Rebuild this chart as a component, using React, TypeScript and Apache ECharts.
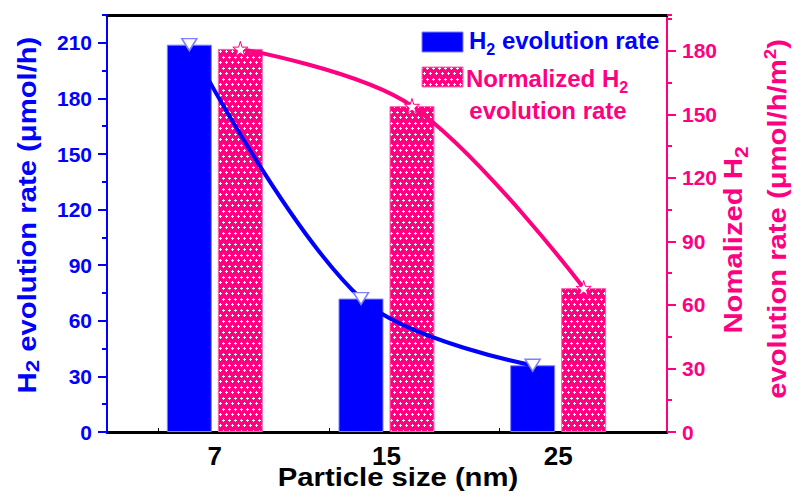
import React, { useEffect, useRef } from 'react';
import * as echarts from 'echarts';

// ---- data ----
const categories = ['7', '15', '25'];
const h2Rate = [209, 72, 36];
const normalizedRate = [181, 154, 68];
const leftAxisMax = 225;
const rightAxisMax = 197;
const majorStep = 30;
const minorStep = 15;
const xTickValues = [0.6, 1.6, 2.6, 3.6, 4.6, 5.6];

// ---- layout / style ----
const W = 795;
const H = 498;
const FRAME = { left: 107, right: 128, top: 15, bottom: 66 };
const BARGRID = { left: 129, right: 151, top: 15, bottom: 66 };
const BAR_W = 45;
const BAR_GAP = 6;
const BLUE = '#0000ff';
const PINK = '#ff0080';
const FONT = '"Liberation Sans", Arial, sans-serif';

function makePattern() {
  const c = document.createElement('canvas');
  c.width = 6;
  c.height = 11;
  const g = c.getContext('2d')!;
  g.fillStyle = PINK;
  g.fillRect(0, 0, 6, 11);
  g.fillStyle = '#ffffff';
  const plus = (x: number, y: number) => {
    g.fillRect(x, y - 1, 1, 3);
    g.fillRect(x - 1, y, 3, 1);
  };
  plus(1, 2);
  plus(4, 7);
  return { image: c, repeat: 'repeat', imageWidth: 6, imageHeight: 11 } as any;
}

const STAR = 'path://M50,0 L61,35 L98,35 L68,57 L79,91 L50,70 L21,91 L32,57 L2,35 L39,35 Z';

// rich styles: main text raised a little so that {sub} sits lower; {sup} raised above
const richFor = (color: string, mainSize: number, subSize: number, mainLift: number, supLift: number) => ({
  m: { fontSize: mainSize, fontWeight: 'bold', fontFamily: FONT, fill: color, color, verticalAlign: 'bottom', padding: [0, 0, mainLift, 0] },
  sub: { fontSize: subSize, fontWeight: 'bold', fontFamily: FONT, fill: color, color, verticalAlign: 'bottom', padding: [0, 0, 0, 0] },
  sup: { fontSize: subSize, fontWeight: 'bold', fontFamily: FONT, fill: color, color, verticalAlign: 'bottom', padding: [0, 0, supLift, 0] },
});

export default function App() {
  const ref = useRef<HTMLDivElement>(null);
  useEffect(() => {
    document.body.style.margin = '0';
    const chart = echarts.init(ref.current!, undefined, { renderer: 'svg' });
    const pattern = makePattern();
    const band = (W - BARGRID.left - BARGRID.right) / categories.length;
    const off = (BAR_W + BAR_GAP) / 2 / band;

    const yMajor = (pos: 'left' | 'right', max: number, color: string) => ({
      type: 'value',
      gridIndex: 0,
      position: pos,
      min: 0,
      max,
      interval: majorStep,
      splitLine: { show: false },
      axisLine: { show: true, onZero: false, lineStyle: { color, width: 2 } },
      axisTick: { show: true, inside: false, length: 9, lineStyle: { color, width: 2 } },
      axisLabel: {
        show: true,
        showMaxLabel: false,
        color,
        fontSize: 21,
        fontWeight: 'bold',
        fontFamily: FONT,
        margin: 15,
      },
    });
    const yMinor = (pos: 'left' | 'right', max: number, color: string) => ({
      type: 'value',
      gridIndex: 0,
      position: pos,
      min: 0,
      max,
      interval: minorStep,
      splitLine: { show: false },
      axisLine: { show: false, onZero: false },
      axisTick: { show: true, inside: false, length: 5, lineStyle: { color, width: 2 } },
      axisLabel: { show: false },
    });

    const titleFont = `bold 25px ${FONT}`;

    chart.setOption({
      animation: false,
      grid: [
        { ...FRAME, containLabel: false, outerBoundsMode: 'none' },
        { ...BARGRID, containLabel: false, outerBoundsMode: 'none' },
      ],
      xAxis: [
        {
          type: 'value',
          gridIndex: 0,
          position: 'bottom',
          min: 0,
          max: (W - FRAME.left - FRAME.right) / 85.3,
          axisLine: { show: true, onZero: false, lineStyle: { color: '#000', width: 3 } },
          axisTick: { show: true, inside: true, length: 4, customValues: xTickValues, lineStyle: { color: '#000', width: 1 } },
          axisLabel: { show: false },
          splitLine: { show: false },
        },
        {
          type: 'value',
          gridIndex: 0,
          position: 'top',
          min: 0,
          max: 1,
          axisLine: { show: true, onZero: false, lineStyle: { color: '#000', width: 3 } },
          axisTick: { show: false },
          axisLabel: { show: false },
          splitLine: { show: false },
        },
        {
          type: 'category',
          gridIndex: 1,
          data: categories,
          position: 'bottom',
          axisLine: { show: false, onZero: false },
          axisTick: { show: false },
          axisLabel: { color: '#000', fontSize: 26, fontWeight: 'bold', fontFamily: FONT, margin: 11 },
        },
        {
          type: 'value',
          gridIndex: 1,
          min: -0.5,
          max: categories.length - 0.5,
          show: false,
        },
      ],
      yAxis: [
        yMajor('left', leftAxisMax, BLUE),
        yMinor('left', leftAxisMax, BLUE),
        yMajor('right', rightAxisMax, PINK),
        yMinor('right', rightAxisMax, PINK),
        { type: 'value', gridIndex: 1, min: 0, max: leftAxisMax, show: false },
        { type: 'value', gridIndex: 1, min: 0, max: rightAxisMax, show: false, position: 'right' },
      ],
      series: [
        {
          type: 'bar',
          name: 'H2 evolution rate',
          xAxisIndex: 2,
          yAxisIndex: 4,
          data: h2Rate,
          barWidth: BAR_W,
          barGap: `${(BAR_GAP / BAR_W) * 100}%`,
          itemStyle: { color: BLUE, borderColor: '#8080ff', borderWidth: 1 },
          z: 2,
        },
        {
          type: 'bar',
          name: 'Normalized H2 evolution rate',
          xAxisIndex: 2,
          yAxisIndex: 5,
          data: normalizedRate,
          barWidth: BAR_W,
          barGap: `${(BAR_GAP / BAR_W) * 100}%`,
          itemStyle: { color: pattern, borderColor: '#ff66b3', borderWidth: 1 },
          z: 2,
        },
        {
          type: 'line',
          xAxisIndex: 3,
          yAxisIndex: 4,
          data: h2Rate.map((v, i) => [i - off, v]),
          smooth: 0.35,
          symbol: 'triangle',
          symbolRotate: 180,
          symbolSize: [15, 12],
          lineStyle: { color: BLUE, width: 4 },
          itemStyle: { color: '#ffffff', borderColor: '#7f7fff', borderWidth: 1.5 },
          z: 4,
        },
        {
          type: 'line',
          xAxisIndex: 3,
          yAxisIndex: 5,
          data: normalizedRate.map((v, i) => [i + off, v]),
          smooth: 0.35,
          symbol: STAR,
          symbolSize: 15,
          lineStyle: { color: PINK, width: 4 },
          itemStyle: { color: '#ffffff', borderColor: PINK, borderWidth: 1 },
          z: 4,
        },
      ],
      graphic: [
        // axis titles
        {
          type: 'text',
          x: 28,
          y: 215,
          rotation: Math.PI / 2,
          scaleX: 1.17,
          style: {
            text: '{m|H}{sub|2}{m| evolution rate (μmol/h)}',
            fill: BLUE,
            font: titleFont,
            align: 'center',
            verticalAlign: 'middle',
            rich: richFor(BLUE, 25, 19, 2, 12),
          },
          z: 10,
        },
        {
          type: 'text',
          x: 736,
          y: 240,
          rotation: Math.PI / 2,
          scaleX: 1.17,
          style: {
            text: '{m|Nomalized H}{sub|2}',
            fill: PINK,
            font: titleFont,
            align: 'center',
            verticalAlign: 'middle',
            rich: richFor(PINK, 25, 18, 5, 12),
          },
          z: 10,
        },
        {
          type: 'text',
          x: 776,
          y: 219,
          rotation: Math.PI / 2,
          scaleX: 1.17,
          style: {
            text: '{m|evolution rate (μmol/h/m}{sup|2}{m|)}',
            fill: PINK,
            font: titleFont,
            align: 'center',
            verticalAlign: 'middle',
            rich: richFor(PINK, 25, 16, 0, 12),
          },
          z: 10,
        },
        {
          type: 'text',
          x: 398,
          y: 477,
          scaleX: 1.17,
          style: {
            text: 'Particle size (nm)',
            fill: '#000',
            font: titleFont,
            align: 'center',
            verticalAlign: 'middle',
          },
          z: 10,
        },
        // legend
        {
          type: 'rect',
          shape: { x: 422, y: 32, width: 41, height: 20 },
          style: { fill: BLUE, stroke: '#8080ff', lineWidth: 1 },
          z: 10,
        },
        {
          type: 'text',
          x: 469,
          y: 43,
          style: {
            text: '{m|H}{sub|2}{m| evolution rate}',
            fill: BLUE,
            font: `bold 24px ${FONT}`,
            verticalAlign: 'middle',
            rich: richFor(BLUE, 24, 16, 5, 12),
          },
          z: 10,
        },
        {
          type: 'rect',
          shape: { x: 422, y: 67, width: 41, height: 20 },
          style: { fill: pattern, stroke: '#ff66b3', lineWidth: 1 },
          z: 10,
        },
        {
          type: 'text',
          x: 547,
          y: 81,
          style: {
            text: '{m|Normalized H}{sub|2}',
            fill: PINK,
            font: `bold 24px ${FONT}`,
            align: 'center',
            verticalAlign: 'middle',
            rich: richFor(PINK, 24, 16, 5, 12),
          },
          z: 10,
        },
        {
          type: 'text',
          x: 548,
          y: 110,
          style: {
            text: 'evolution rate',
            fill: PINK,
            font: `bold 24px ${FONT}`,
            align: 'center',
            verticalAlign: 'middle',
          },
          z: 10,
        },
      ],
    });
    return () => chart.dispose();
  }, []);
  return <div ref={ref} style={{ width: W, height: H }} />;
}
